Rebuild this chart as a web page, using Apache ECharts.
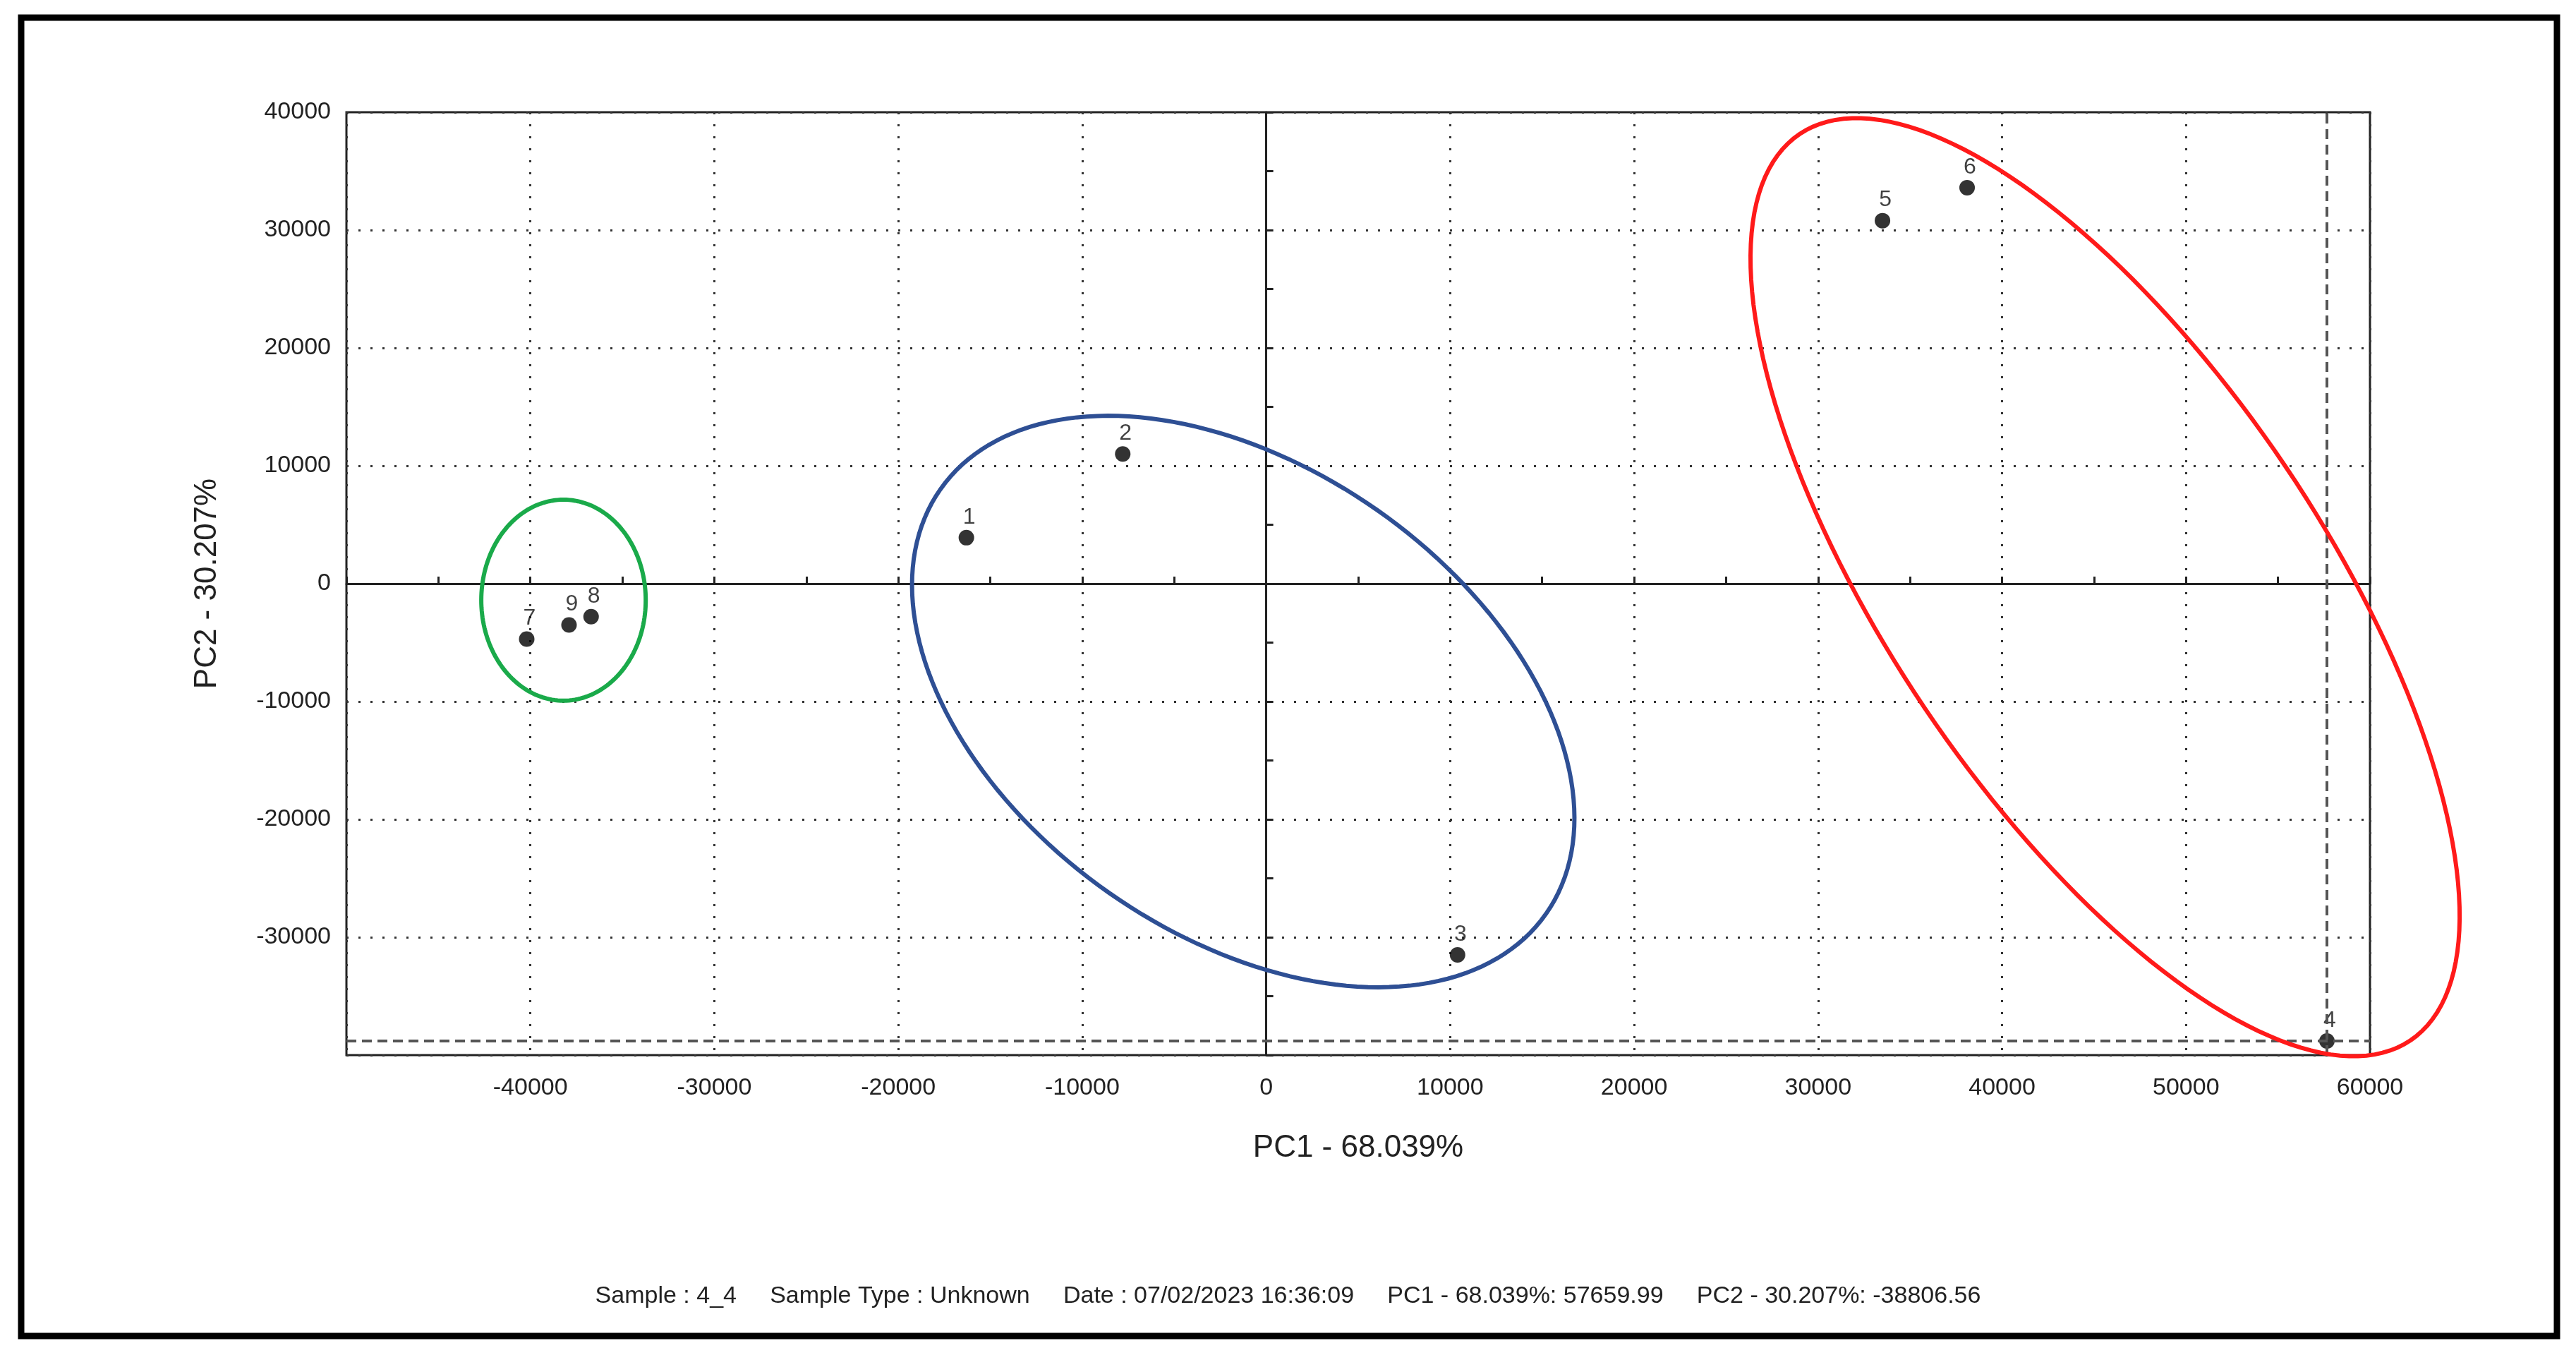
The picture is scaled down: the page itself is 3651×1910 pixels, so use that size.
<!DOCTYPE html>
<html><head><meta charset="utf-8">
<script src="https://cdn.jsdelivr.net/npm/echarts@6/dist/echarts.min.js"></script>
<style>html,body{margin:0;padding:0;background:#fff}#c{width:3651px;height:1910px}</style>
</head><body><div id="c"></div>
<script>
const sampleNames = ['1','2','3','4','5','6','7','8','9'];
const pc1 = [-16300, -7800, 10400, 57659.99, 33500, 38100, -40200, -36700, -37900];
const pc2 = [3900, 11000, -31500, -38806.56, 30800, 33600, -4700, -2800, -3500];
const xTicks = [-40000,-30000,-20000,-10000,0,10000,20000,30000,40000,50000,60000];
const yTicks = [-30000,-20000,-10000,0,10000,20000,30000,40000];
// ellipses: centre, semi-axes (in x-data units), rotation deg (screen), colour
const ellipseCx = [-38200, -1250, 45600];
const ellipseCy = [-1400, -10000, -300];
const ellipseA = [4470, 20100, 29700];
const ellipseB = [5460, 12700, 11800];
const ellipseRot = [0, -35, -56];
const ellipseColor = ['#1aaa4a', '#2e4f94', '#ff1a1a'];
const footer = 'Sample : 4_4     Sample Type : Unknown     Date : 07/02/2023 16:36:09     PC1 - 68.039%: 57659.99     PC2 - 30.207%: -38806.56';

const chart = echarts.init(document.getElementById('c'));
const ff = 'Liberation Sans, Arial, sans-serif';
const pts = pc1.map((x,i)=>[x, pc2[i], sampleNames[i]]);
const ell = ellipseCx.map((x,i)=>[x, ellipseCy[i], ellipseA[i], ellipseB[i], ellipseRot[i], i]);
chart.setOption({
  animation:false,
  backgroundColor:'#fff',
  graphic:[
    {type:'rect', shape:{x:30,y:25,width:3594,height:1868}, style:{fill:'none',stroke:'#000',lineWidth:9}},
    {type:'text', left:'center', top:1820, style:{text:footer, font:'34px '+ff, fill:'#222'}}
  ],
  grid:{left:491, right:292, top:159, bottom:415, show:true, borderColor:'#222', borderWidth:3},
  xAxis:[
    {type:'value', min:-50000, max:60000, interval:10000, position:'bottom',
     axisLine:{show:false}, axisTick:{show:false},
     axisLabel:{fontSize:34, fontFamily:ff, color:'#222', margin:30,
       formatter:v=> xTicks.includes(v)? String(v):''},
     splitLine:{show:true, lineStyle:{type:[3,14], color:'#333', width:3}},
     name:'PC1 - 68.039%', nameLocation:'middle', nameGap:110,
     nameTextStyle:{fontSize:44, fontFamily:ff, color:'#222'}},
    {type:'value', min:-50000, max:60000, interval:5000,
     axisLine:{show:true, onZero:true, onZeroAxisIndex:0, lineStyle:{color:'#222', width:3}},
     axisTick:{show:true, inside:false, length:10, lineStyle:{color:'#222', width:3}},
     axisLabel:{show:false}, splitLine:{show:false}}
  ],
  yAxis:[
    {type:'value', min:-40000, max:40000, interval:10000,
     axisLine:{show:false}, axisTick:{show:false},
     axisLabel:{fontSize:34, fontFamily:ff, color:'#222', margin:22,
       formatter:v=> yTicks.includes(v)? String(v):''},
     splitLine:{show:true, lineStyle:{type:[3,14], color:'#333', width:3}},
     name:'PC2 - 30.207%', nameLocation:'middle', nameGap:175,
     nameTextStyle:{fontSize:44, fontFamily:ff, color:'#222'}},
    {type:'value', min:-40000, max:40000, interval:5000,
     axisLine:{show:true, onZero:true, onZeroAxisIndex:0, lineStyle:{color:'#222', width:3}},
     axisTick:{show:true, length:10, lineStyle:{color:'#222', width:3}},
     axisLabel:{show:false}, splitLine:{show:false}}
  ],
  series:[
    {type:'scatter', data:pts, symbolSize:22, itemStyle:{color:'#000'},
     label:{show:true, position:'top', distance:2, offset:[4,0], formatter:p=>p.data[2],
       fontSize:32, fontFamily:ff, color:'#111'},
     markLine:{silent:true, symbol:'none', label:{show:false},
       lineStyle:{type:[14,8], color:'#555', width:4},
       data:[{xAxis:pc1[3]},{yAxis:pc2[3]}]}},
    {type:'custom', data:ell, z:5, silent:true,
     renderItem:(params, api)=>{
       const c = api.coord([api.value(0), api.value(1)]);
       const a = api.size([api.value(2),0])[0];
       const b = api.size([api.value(3),0])[0];
       const r = api.value(4)*Math.PI/180;
       const pts=[];
       for(let k=0;k<=180;k++){const t=k/180*2*Math.PI;
         const ex=a*Math.cos(t), ey=b*Math.sin(t);
         pts.push([c[0]+ex*Math.cos(r)-ey*Math.sin(r), c[1]-(ex*Math.sin(r)+ey*Math.cos(r))]);}
       return {type:'polygon', shape:{points:pts}, style:{fill:'none', stroke:ellipseColor[api.value(5)], lineWidth:6}};
     }}
  ]
});
</script></body></html>
